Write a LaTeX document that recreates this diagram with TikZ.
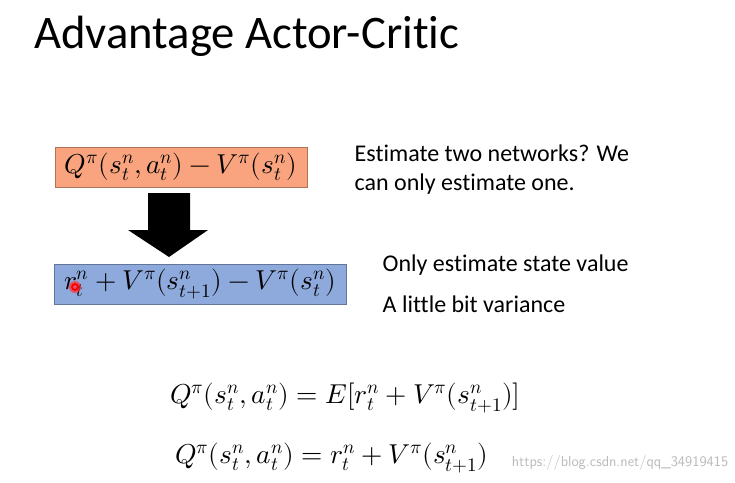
\documentclass[tikz,border=0pt]{standalone}
\usepackage{fontspec}
\setmainfont[Ligatures=NoCommon]{Carlito}
\usepackage{unicode-math}
\setmathfont{Latin Modern Math}
\definecolor{orangebox}{HTML}{F9A47E}
\definecolor{bluebox}{HTML}{8EA9DB}
\begin{document}
\begin{tikzpicture}[x=0.75pt,y=-0.75pt,
  eqbox/.style={draw=#1!70!black,line width=0.6pt,inner sep=0pt},
  txt/.style={anchor=west,font=\fontsize{18}{21}\selectfont},
  eq/.style={font=\fontsize{20.5}{24}\selectfont,inner sep=0pt}]
\useasboundingbox (0,0) rectangle (735,482);
\node[anchor=base west,inner sep=0pt,font=\fontsize{35}{40}\selectfont] (title) at (34,48) {Advantage Actor-Critic};
\node[eqbox=orangebox,fill=orangebox,minimum width=252*0.75pt,minimum height=40*0.75pt] (q) at (181,167) {};
\node[eq] (qt) at (q.center) {$Q^\pi(s_t^n,a_t^n)-V^\pi(s_t^n)$};
\node[eqbox=bluebox,fill=bluebox,minimum width=292*0.75pt,minimum height=40*0.75pt] (a) at (200,284) {};
\node[eq] (at) at (a.center) {$r_t^n+V^\pi(s_{t+1}^n)-V^\pi(s_t^n)$};
\fill[red!80!white,opacity=0.7] (75,287) circle (6);
\draw[red,line width=1.4pt] (75,287) circle (3);
\fill[black] (148,193) -- (190,193) -- (190,230) -- (208,230) -- (169,257) -- (128,230) -- (148,230) -- cycle;
\node[txt] (t1) at (350,153) {Estimate two networks? We};
\node[txt] (t2) at (350,184) {can only estimate one.};
\node[txt] (t3) at (378,265) {Only estimate state value};
\node[txt] (t4) at (378,304) {A little bit variance};
\node[eq,anchor=west] (e1) at (170,398) {$Q^\pi(s_t^n,a_t^n)=E[r_t^n+V^\pi(s_{t+1}^n)]$};
\node[eq,anchor=west] (e2) at (175,458) {$Q^\pi(s_t^n,a_t^n)=r_t^n+V^\pi(s_{t+1}^n)$};
\node[anchor=east,text=gray!55,font=\fontsize{11}{13}\selectfont\sffamily] (wm) at (733,463) {https://blog.csdn.net/qq\_34919415};
\end{tikzpicture}
\end{document}
